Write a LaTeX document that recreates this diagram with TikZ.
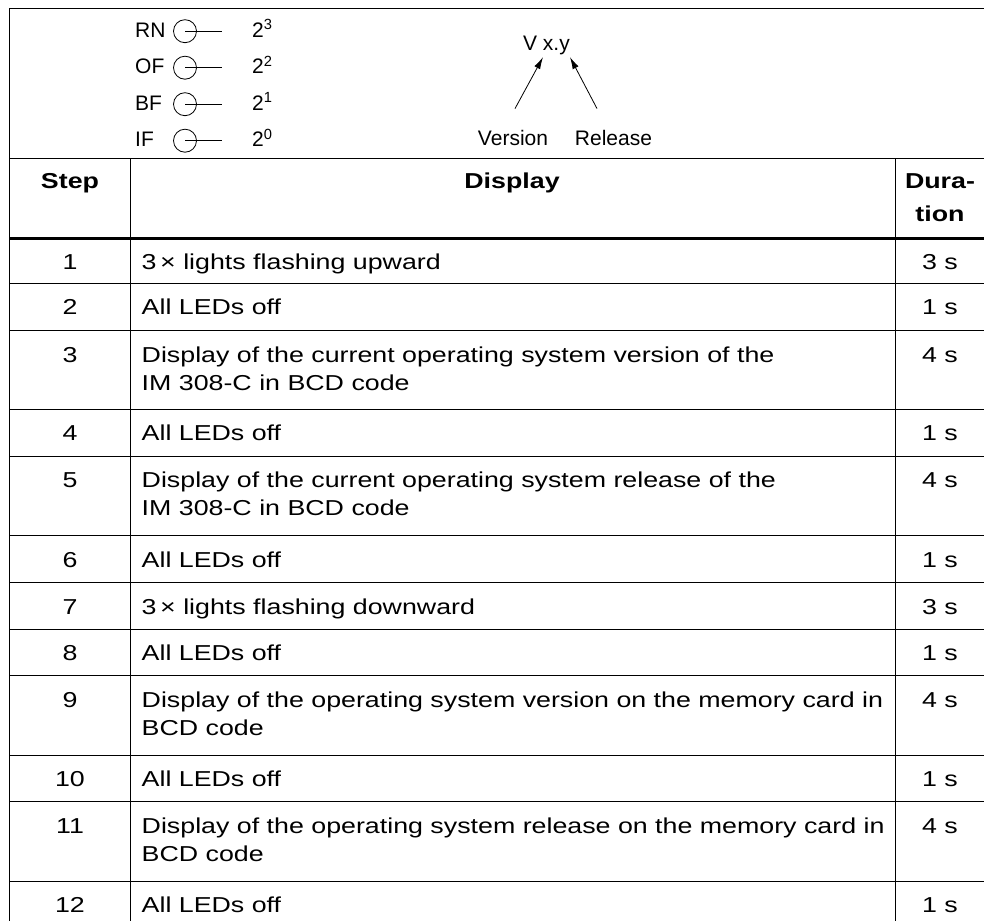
\documentclass[tikz,border=0pt]{standalone}
\usepackage{fontspec}
\setmainfont{Liberation Sans}
\newfontfamily\tabfont{Liberation Sans}[FakeStretch=1.24]
\usetikzlibrary{arrows.meta}

\begin{document}
\begin{tikzpicture}[x=1pt,y=-1pt,every node/.style={inner sep=0pt}]
\tikzset{led/.style={circle,draw,line width=0.8pt,minimum size=23pt},
  txt/.style={font=\fontsize{21}{25}\selectfont},
  cell/.style={font=\tabfont\fontsize{21.6}{28.3}\selectfont,align=left},
  head/.style={font=\tabfont\bfseries\fontsize{21.6}{33}\selectfont,align=center},
  grid/.style={line width=1pt},
  arr/.style={-{Latex[length=12pt,width=6.5pt]},line width=0.8pt}}
\useasboundingbox (0,0) rectangle (984,921);
\foreach \lab/\e [count=\k] in {RN/3,OF/2,BF/1,IF/0}{
  \pgfmathsetmacro\yb{0.7+36.5*\k}
  \node[txt,anchor=base west] (lab\k) at (135,\yb) {\lab};
  \node[led] (led\k) at (185,\yb-6) {};
  \draw[line width=0.8pt] (led\k.center) -- ++(37,0);
  \node[txt,anchor=base west] (pw\k) at (252,\yb) {2\textsuperscript{\e}};
}
\node[txt,anchor=base] (vxy) at (546.5,50) {V x.y};
\node[txt,anchor=base] (ver) at (513,145) {Version};
\node[txt,anchor=base] (rel) at (613.5,145) {Release};
\draw[arr] ([xshift=2pt,yshift=21pt]ver.north) -- ([xshift=-3.5pt,yshift=-2.6pt]vxy.south);
\draw[arr] ([xshift=-16.5pt,yshift=21pt]rel.north) -- ([xshift=23.5pt,yshift=-2.6pt]vxy.south);
\draw[grid] (9.3,8.3) -- (984,8.3);
\draw[grid] (9.3,8.3) -- (9.3,921);
\draw[grid] (9.3,158.5) -- (984,158.5);
\draw[line width=3.3pt] (9.3,238.3) -- (984,238.3);
\draw[grid] (130,158.5) -- (130,921);
\draw[grid] (895,158.5) -- (895,921);
\node[head,anchor=base] (hs) at (70,188.3) {Step};
\node[head,anchor=base] (hd) at (512,188.3) {Display};
\node[head,anchor=base] (ht) at (940,221.5) {Dura-\\tion};
\foreach \s/\top/\bot/\n/\txt/\dur in {
  1/238.3/283/0/{3\,× lights flashing upward}/3,
  2/283/330.7/0/{All LEDs off}/1,
  3/330.7/409.3/1/{Display of the current operating system version of the\\IM 308-C in BCD code}/4,
  4/409.3/456/0/{All LEDs off}/1,
  5/456/535.5/1/{Display of the current operating system release of the\\IM 308-C in BCD code}/4,
  6/535.5/582.5/0/{All LEDs off}/1,
  7/582.5/629/0/{3\,× lights flashing downward}/3,
  8/629/675.7/0/{All LEDs off}/1,
  9/675.7/755/1/{Display of the operating system version on the memory card in\\BCD code}/4,
  10/755/801.7/0/{All LEDs off}/1,
  11/801.7/881/1/{Display of the operating system release on the memory card in\\BCD code}/4,
  12/881/930/0/{All LEDs off}/1}{
  \node[cell,anchor=base] (s\s) at (70,\top+31.5) {\s};
  \node[cell,anchor=base west] (d\s) at (141.5,\top+31.5+28.3*\n) {\txt};
  \node[cell,anchor=base] (t\s) at (940,\top+31.5) {\dur\ s};
  \draw[grid] (9.3,\bot) -- (984,\bot);
}
\end{tikzpicture}
\end{document}
